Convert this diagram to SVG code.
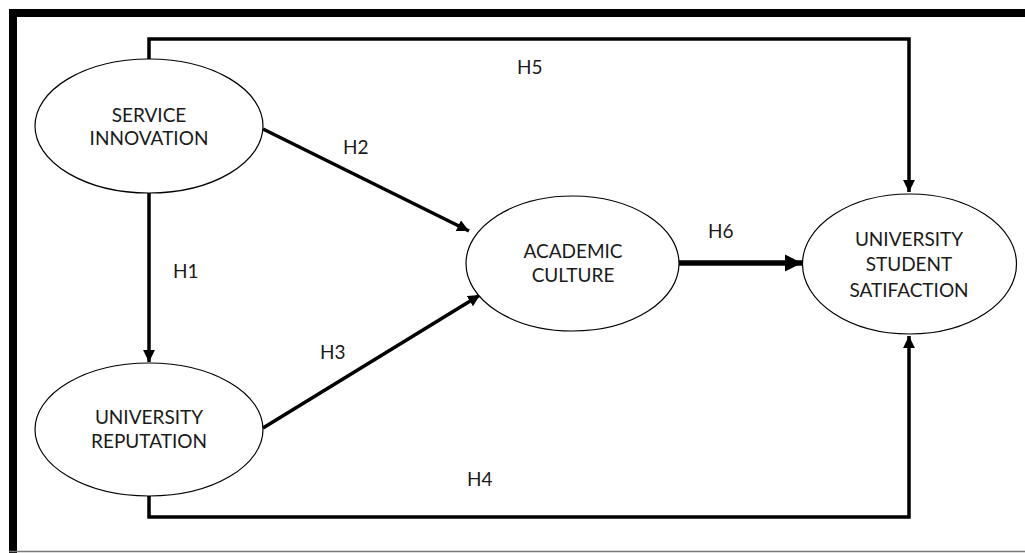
<svg xmlns="http://www.w3.org/2000/svg" width="1025" height="553" viewBox="0 0 1025 553">
<style>
.node ellipse{fill:#fff;stroke:#000;stroke-width:1.2}
text{font-family:Lato,"Open Sans","Liberation Sans",sans-serif;font-size:19px;fill:#1a1a1a;text-anchor:middle}
.lbl{text-anchor:start}
.c{fill:none;stroke:#000;stroke-width:3.5}
.thick{stroke-width:5.5}
</style>
<defs>
<marker id="a" viewBox="0 0 10 10" refX="10" refY="5" markerWidth="3.4" markerHeight="3.4" orient="auto" markerUnits="strokeWidth"><path d="M0,0L10,5L0,10z" fill="#000"/></marker>
<marker id="b" viewBox="0 0 10 10" refX="10" refY="5" markerWidth="3.2" markerHeight="3.1" orient="auto" markerUnits="strokeWidth"><path d="M0,0L10,5L0,10z" fill="#000"/></marker>
</defs>
<rect width="1025" height="553" fill="#fff"/>
<g id="frame">
<line x1="13" y1="13" x2="1025" y2="13" stroke="#000" stroke-width="8"/>
<line x1="13" y1="9" x2="13" y2="553" stroke="#000" stroke-width="8"/>
<line x1="9" y1="551.5" x2="1025" y2="551.5" stroke="#777" stroke-width="1.5"/>
</g>
<g id="connectors">
<path class="c" d="M149,60V39H909V192" marker-end="url(#a)"/>
<path class="c" d="M149,495V517H909V336" marker-end="url(#a)"/>
<path class="c" d="M149,193V362" marker-end="url(#a)"/>
<path class="c" d="M263,129L469,231" marker-end="url(#a)"/>
<path class="c" d="M263,428L480,295" marker-end="url(#a)"/>
<path class="c thick" d="M679,263H802" marker-end="url(#b)"/>
<text class="lbl" x="517" y="74">H5</text>
<text class="lbl" x="343" y="154">H2</text>
<text class="lbl" x="173" y="278">H1</text>
<text class="lbl" x="708" y="238">H6</text>
<text class="lbl" x="320" y="359">H3</text>
<text class="lbl" x="467" y="486">H4</text>
</g>
<g id="service-innovation" class="node">
<ellipse cx="149" cy="126" rx="114" ry="67"/>
<text x="149" y="122">SERVICE</text>
<text x="149" y="145">INNOVATION</text>
</g>
<g id="university-reputation" class="node">
<ellipse cx="149" cy="429.5" rx="114" ry="66.5"/>
<text x="149" y="424">UNIVERSITY</text>
<text x="149" y="448">REPUTATION</text>
</g>
<g id="academic-culture" class="node">
<ellipse cx="572.5" cy="263.5" rx="106.5" ry="67.5"/>
<text x="573" y="258">ACADEMIC</text>
<text x="573" y="282">CULTURE</text>
</g>
<g id="student-satisfaction" class="node">
<ellipse cx="909.5" cy="264" rx="107" ry="70"/>
<text x="909" y="246">UNIVERSITY</text>
<text x="909" y="271">STUDENT</text>
<text x="909" y="297">SATIFACTION</text>
</g>
</svg>
